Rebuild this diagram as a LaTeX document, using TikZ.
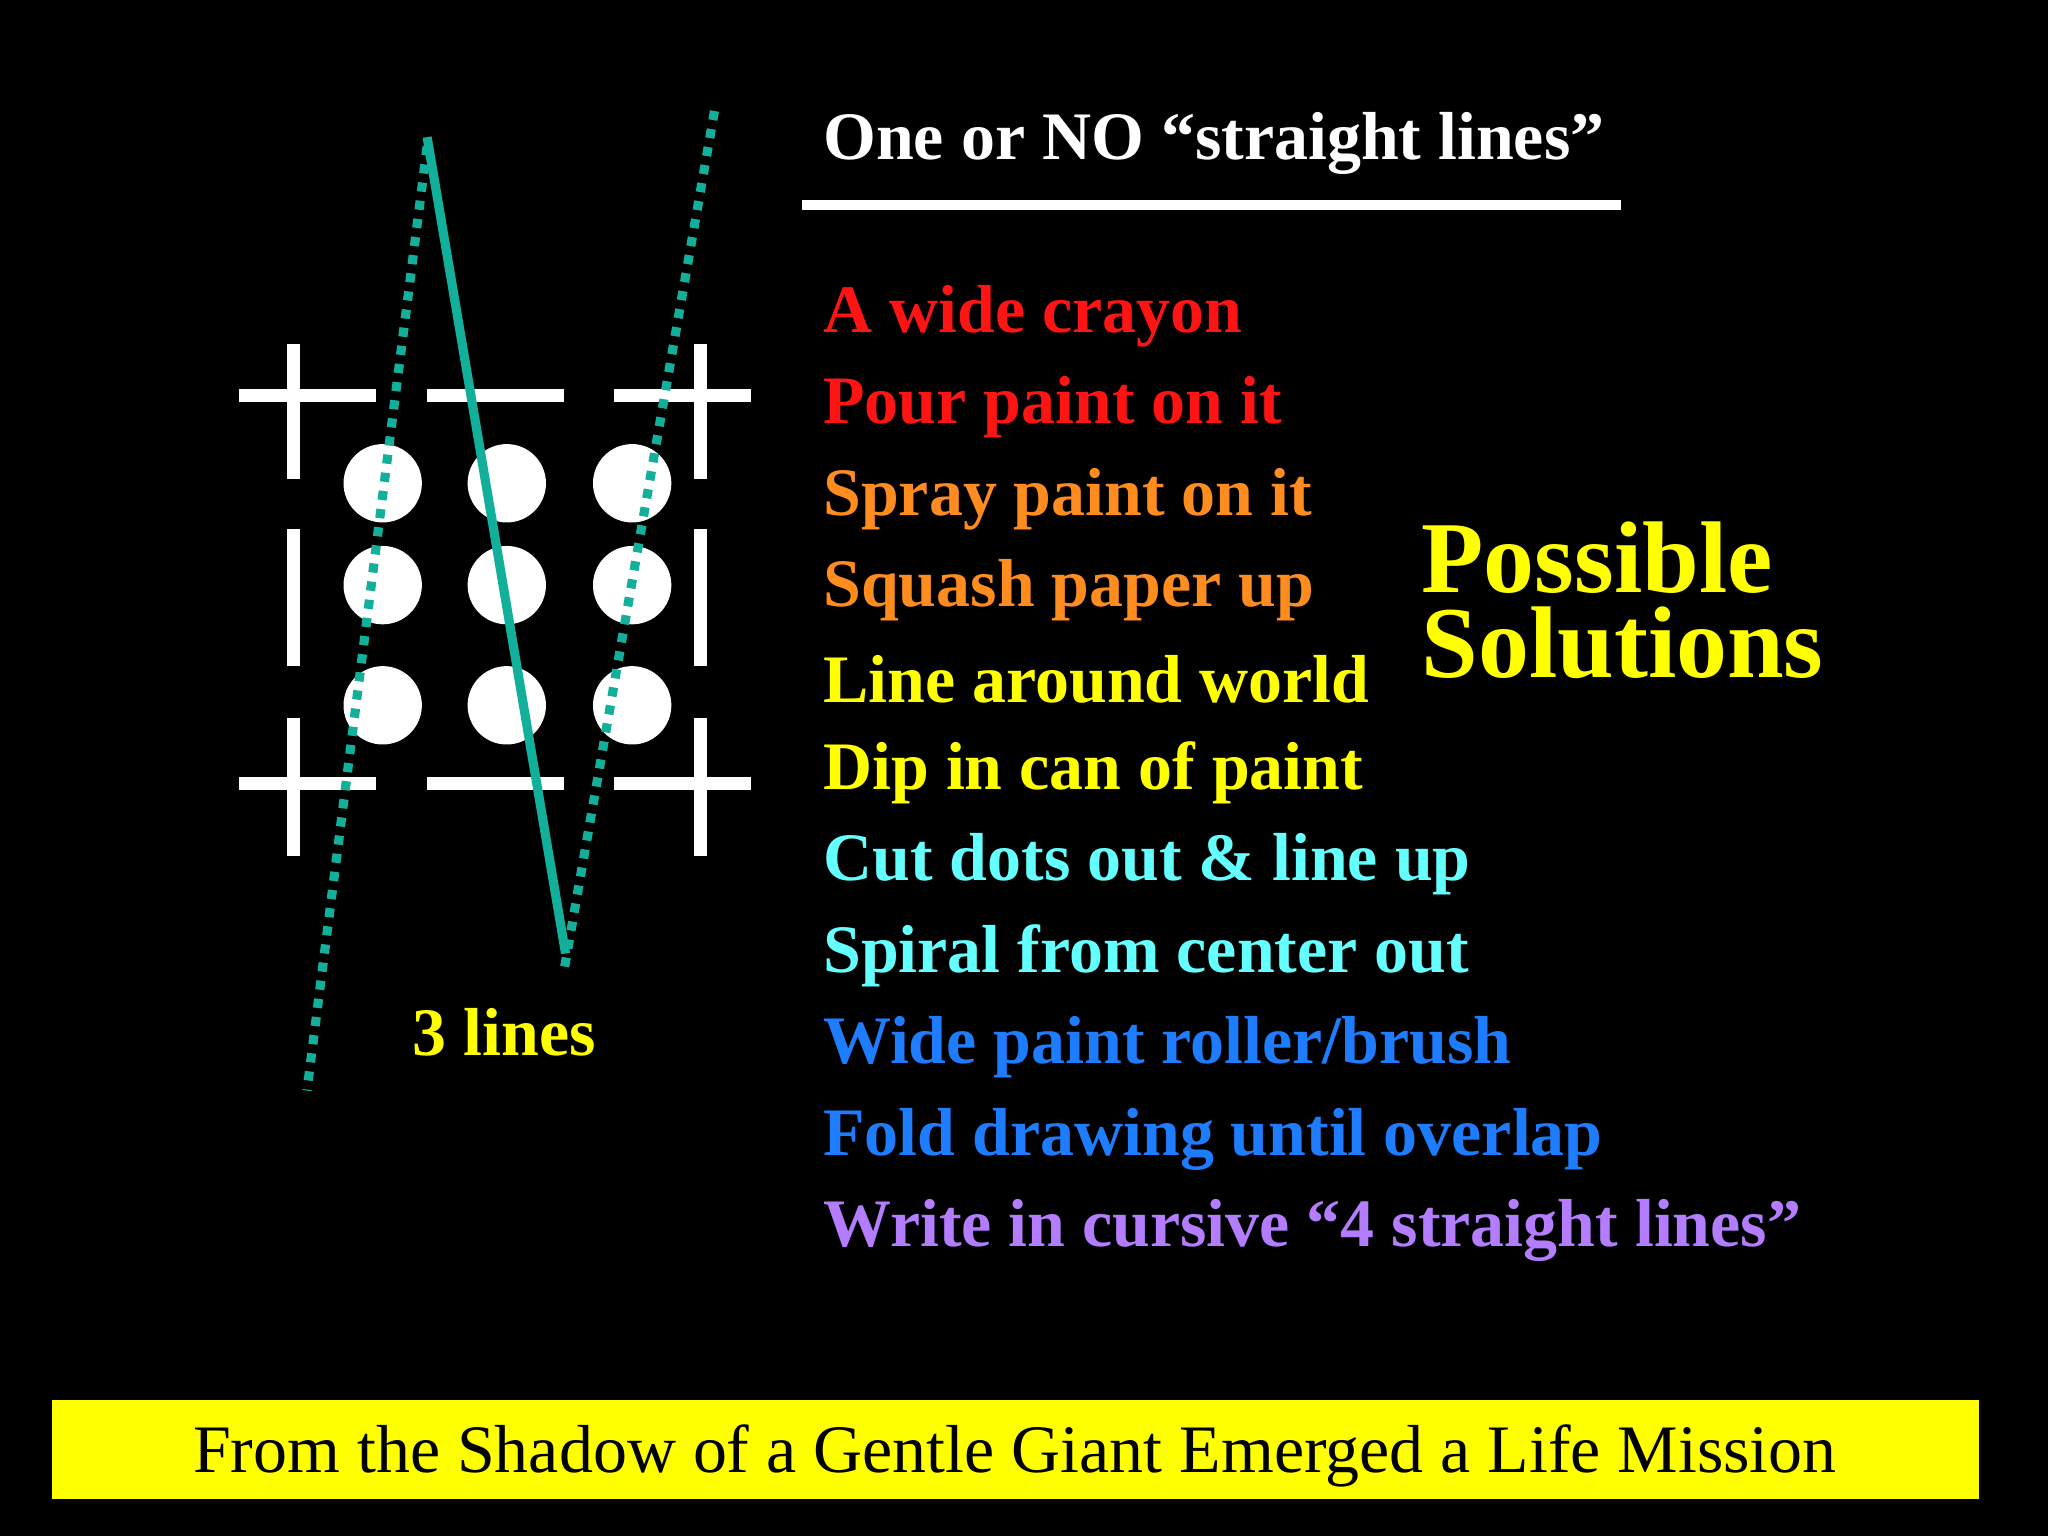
\documentclass[tikz,border=0pt]{standalone}
\usepackage{fontspec}
\setmainfont{Liberation Serif}
\begin{document}
\begin{tikzpicture}[x=0.5pt,y=-0.5pt,
  bar/.style={white,line width=5pt},
  item/.style={anchor=west,font=\fontsize{26}{30}\selectfont\bfseries,inner sep=0pt},
  tealsolid/.style={color={rgb,255:red,18;green,176;blue,154},line width=3.5pt},
  tealdot/.style={color={rgb,255:red,18;green,176;blue,154},line width=3.5pt,dash pattern=on 3.5pt off 3.5pt}]
\fill[black] (0,0) rectangle (1568,1176);
\useasboundingbox (0,0) rectangle (1568,1176);
% title
\node[anchor=west,white,font=\fontsize{26}{30}\selectfont\bfseries,inner sep=0pt] (title) at (630,110) {One or NO “straight lines”};
\draw[white,line width=4pt] (614,157) -- (1241,157);
% list
\definecolor{cR}{RGB}{255,20,20}
\definecolor{cO}{RGB}{255,140,30}
\definecolor{cY}{RGB}{255,255,0}
\definecolor{cC}{RGB}{100,255,255}
\definecolor{cB}{RGB}{30,125,255}
\definecolor{cP}{RGB}{180,125,255}
\node[item,cR] (i1) at (630,242) {A wide crayon};
\node[item,cR] (i2) at (630,312) {Pour paint on it};
\node[item,cO] (i3) at (630,382) {Spray paint on it};
\node[item,cO] (i4) at (630,452) {Squash paper up};
\node[item,cY] (i5) at (630,520) {Line around world};
\node[item,cY] (i6) at (630,592) {Dip in can of paint};
\node[item,cC] (i7) at (630,662) {Cut dots out \& line up};
\node[item,cC] (i8) at (630,732) {Spiral from center out};
\node[item,cB] (i9) at (630,802) {Wide paint roller/brush};
\node[item,cB] (i10) at (630,872) {Fold drawing until overlap};
\node[item,cP] (i11) at (630,942) {Write in cursive “4 straight lines”};
\node[anchor=west,cY,inner sep=0pt,font=\fontsize{39}{40}\selectfont\bfseries] (ps1) at (1088,427) {Possible};
\node[anchor=west,cY,inner sep=0pt,font=\fontsize{39}{40}\selectfont\bfseries] (ps2) at (1088,492) {Solutions};
% grid
\draw[bar] (183,303) -- (288,303); \draw[bar] (225,263) -- (225,367);
\draw[bar] (327,303) -- (432,303);
\draw[bar] (470,303) -- (575,303); \draw[bar] (536,263) -- (536,367);
\draw[bar] (225,405) -- (225,510); \draw[bar] (536,405) -- (536,510);
\draw[bar] (183,600) -- (288,600); \draw[bar] (225,550) -- (225,655);
\draw[bar] (327,600) -- (432,600);
\draw[bar] (470,600) -- (575,600); \draw[bar] (536,550) -- (536,655);
\foreach \x in {293,388,484}{
  \foreach \y in {370,448,540}{
    \fill[white] (\x,\y) ellipse [x radius=30, y radius=30];
  }
}
% lines
\coordinate (s1) at (327,105); \coordinate (s2) at (433,730);
\draw[tealsolid] (s1) -- (s2);
\coordinate (d1) at (547,85); \coordinate (d2) at (432,742);
\draw[tealdot] (d1) -- (d2);
\coordinate (e1) at (327,112); \coordinate (e2) at (235,835);
\draw[tealdot] (e1) -- (e2);
\node[cY,font=\fontsize{26}{30}\selectfont\bfseries,inner sep=0pt] (three) at (386,790) {3 lines};
% banner
\fill[cY] (40,1072) rectangle (1515,1148);
\node[black,font=\fontsize{26}{30}\selectfont,inner sep=0pt] (banner) at (777,1115) {From the Shadow of a Gentle Giant Emerged a Life Mission};
\end{tikzpicture}
\end{document}
